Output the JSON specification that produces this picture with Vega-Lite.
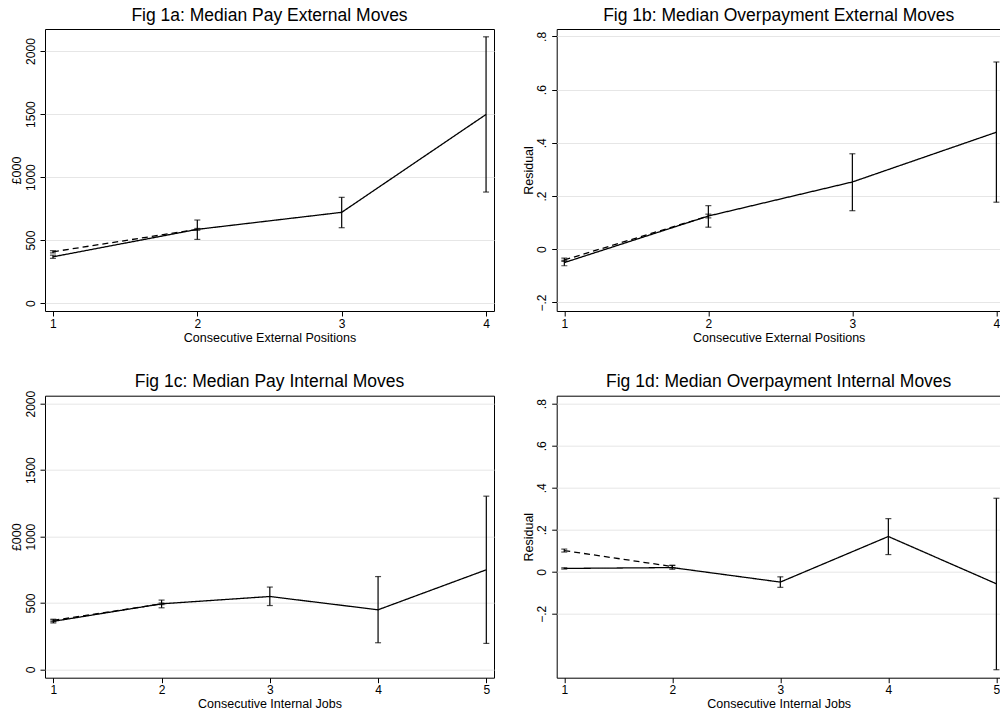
{
  "$schema": "https://vega.github.io/schema/vega-lite/v6.json",
  "background": "white",
  "padding": {"left": 10, "top": 6, "right": 0, "bottom": 0},
  "datasets": {
    "a": [
      {"series": "main", "x": 1, "y": 367, "lo": 355, "hi": 380},
      {"series": "main", "x": 2, "y": 585, "lo": 505, "hi": 659},
      {"series": "main", "x": 3, "y": 720, "lo": 598, "hi": 839},
      {"series": "main", "x": 4, "y": 1497, "lo": 881, "hi": 2113},
      {"series": "alt", "x": 1, "y": 407, "lo": 398, "hi": 416},
      {"series": "alt", "x": 2, "y": 585, "lo": 578, "hi": 592}
    ],
    "b": [
      {"series": "main", "x": 1, "y": -0.050, "lo": -0.062, "hi": -0.042},
      {"series": "main", "x": 2, "y": 0.125, "lo": 0.083, "hi": 0.164},
      {"series": "main", "x": 3, "y": 0.253, "lo": 0.145, "hi": 0.359},
      {"series": "main", "x": 4, "y": 0.440, "lo": 0.177, "hi": 0.704},
      {"series": "alt", "x": 1, "y": -0.040, "lo": -0.046, "hi": -0.033},
      {"series": "alt", "x": 2, "y": 0.125, "lo": 0.118, "hi": 0.132}
    ],
    "c": [
      {"series": "main", "x": 1, "y": 362, "lo": 350, "hi": 372},
      {"series": "main", "x": 2, "y": 494, "lo": 464, "hi": 522},
      {"series": "main", "x": 3, "y": 549, "lo": 481, "hi": 620},
      {"series": "main", "x": 4, "y": 449, "lo": 201, "hi": 699},
      {"series": "main", "x": 5, "y": 750, "lo": 196, "hi": 1304},
      {"series": "alt", "x": 1, "y": 369, "lo": 360, "hi": 378},
      {"series": "alt", "x": 2, "y": 494, "lo": 488, "hi": 500}
    ],
    "d": [
      {"series": "main", "x": 1, "y": 0.016, "lo": 0.013, "hi": 0.019},
      {"series": "main", "x": 2, "y": 0.020, "lo": 0.012, "hi": 0.030},
      {"series": "main", "x": 3, "y": -0.049, "lo": -0.074, "hi": -0.024},
      {"series": "main", "x": 4, "y": 0.168, "lo": 0.082, "hi": 0.253},
      {"series": "main", "x": 5, "y": -0.057, "lo": -0.466, "hi": 0.350},
      {"series": "alt", "x": 1, "y": 0.101, "lo": 0.094, "hi": 0.108},
      {"series": "alt", "x": 2, "y": 0.025, "lo": 0.019, "hi": 0.031}
    ]
  },
  "columns": 2,
  "spacing": {"row": 84.7, "column": 62.7},
  "bounds": "flush",
  "align": "each",
  "concat": [
    {
      "width": 449, "height": 282,
      "title": "Fig 1a: Median Pay External Moves",
      "data": {"name": "a"},
      "encoding": {
        "x": {"field": "x", "type": "quantitative", "scale": {"domain": [0.945, 4.055], "nice": false, "zero": false}, "axis": {"values": [1, 2, 3, 4], "format": "d", "title": "Consecutive External Positions"}}
      },
      "layer": [
        {"mark": {"type": "line", "color": "black", "strokeWidth": 1.3},
         "encoding": {
           "y": {"field": "y", "type": "quantitative", "scale": {"domain": [-63, 2175], "nice": false, "zero": false}, "axis": {"values": [0, 500, 1000, 1500, 2000], "format": "d", "title": "£000"}},
           "strokeDash": {"field": "series", "type": "nominal", "scale": {"domain": ["main", "alt"], "range": [[1, 0], [6, 4]]}, "legend": null}
         }},
        {"mark": {"type": "rule", "color": "black", "strokeWidth": 1.2},
         "encoding": {
           "y": {"field": "lo", "type": "quantitative", "scale": {"domain": [-63, 2175], "nice": false, "zero": false}, "title": "£000"},
           "y2": {"field": "hi"}
         }},
        {"mark": {"type": "tick", "orient": "horizontal", "color": "black", "size": 6, "thickness": 1.2},
         "encoding": {"y": {"field": "lo", "type": "quantitative", "scale": {"domain": [-63, 2175], "nice": false, "zero": false}, "title": "£000"}}},
        {"mark": {"type": "tick", "orient": "horizontal", "color": "black", "size": 6, "thickness": 1.2},
         "encoding": {"y": {"field": "hi", "type": "quantitative", "scale": {"domain": [-63, 2175], "nice": false, "zero": false}, "title": "£000"}}}
      ]
    },
    {
      "width": 444, "height": 282,
      "title": "Fig 1b: Median Overpayment External Moves",
      "data": {"name": "b"},
      "encoding": {
        "x": {"field": "x", "type": "quantitative", "scale": {"domain": [0.947, 4.03], "nice": false, "zero": false}, "axis": {"values": [1, 2, 3, 4], "format": "d", "title": "Consecutive External Positions"}}
      },
      "layer": [
        {"mark": {"type": "line", "color": "black", "strokeWidth": 1.3},
         "encoding": {
           "y": {"field": "y", "type": "quantitative", "scale": {"domain": [-0.232, 0.828], "nice": false, "zero": false}, "axis": {"values": [-0.2, 0, 0.2, 0.4, 0.6, 0.8], "labelExpr": "datum.value == 0 ? '0' : replace(format(datum.value, '.1f'), '0.', '.')", "title": "Residual"}},
           "strokeDash": {"field": "series", "type": "nominal", "scale": {"domain": ["main", "alt"], "range": [[1, 0], [6, 4]]}, "legend": null}
         }},
        {"mark": {"type": "rule", "color": "black", "strokeWidth": 1.2},
         "encoding": {
           "y": {"field": "lo", "type": "quantitative", "scale": {"domain": [-0.232, 0.828], "nice": false, "zero": false}, "title": "Residual"},
           "y2": {"field": "hi"}
         }},
        {"mark": {"type": "tick", "orient": "horizontal", "color": "black", "size": 6, "thickness": 1.2},
         "encoding": {"y": {"field": "lo", "type": "quantitative", "scale": {"domain": [-0.232, 0.828], "nice": false, "zero": false}, "title": "Residual"}}},
        {"mark": {"type": "tick", "orient": "horizontal", "color": "black", "size": 6, "thickness": 1.2},
         "encoding": {"y": {"field": "hi", "type": "quantitative", "scale": {"domain": [-0.232, 0.828], "nice": false, "zero": false}, "title": "Residual"}}}
      ]
    },
    {
      "width": 449, "height": 282,
      "title": {"text": "Fig 1c: Median Pay Internal Moves", "offset": -0.5},
      "data": {"name": "c"},
      "encoding": {
        "x": {"field": "x", "type": "quantitative", "scale": {"domain": [0.923, 5.071], "nice": false, "zero": false}, "axis": {"values": [1, 2, 3, 4, 5], "format": "d", "title": "Consecutive Internal Jobs"}}
      },
      "layer": [
        {"mark": {"type": "line", "color": "black", "strokeWidth": 1.3},
         "encoding": {
           "y": {"field": "y", "type": "quantitative", "scale": {"domain": [-62, 2060], "nice": false, "zero": false}, "axis": {"values": [0, 500, 1000, 1500, 2000], "format": "d", "title": "£000"}},
           "strokeDash": {"field": "series", "type": "nominal", "scale": {"domain": ["main", "alt"], "range": [[1, 0], [6, 4]]}, "legend": null}
         }},
        {"mark": {"type": "rule", "color": "black", "strokeWidth": 1.2},
         "encoding": {
           "y": {"field": "lo", "type": "quantitative", "scale": {"domain": [-62, 2060], "nice": false, "zero": false}, "title": "£000"},
           "y2": {"field": "hi"}
         }},
        {"mark": {"type": "tick", "orient": "horizontal", "color": "black", "size": 6, "thickness": 1.2},
         "encoding": {"y": {"field": "lo", "type": "quantitative", "scale": {"domain": [-62, 2060], "nice": false, "zero": false}, "title": "£000"}}},
        {"mark": {"type": "tick", "orient": "horizontal", "color": "black", "size": 6, "thickness": 1.2},
         "encoding": {"y": {"field": "hi", "type": "quantitative", "scale": {"domain": [-62, 2060], "nice": false, "zero": false}, "title": "£000"}}}
      ]
    },
    {
      "width": 444, "height": 282,
      "title": "Fig 1d: Median Overpayment Internal Moves",
      "data": {"name": "d"},
      "encoding": {
        "x": {"field": "x", "type": "quantitative", "scale": {"domain": [0.93, 5.04], "nice": false, "zero": false}, "axis": {"values": [1, 2, 3, 4, 5], "format": "d", "title": "Consecutive Internal Jobs"}}
      },
      "layer": [
        {"mark": {"type": "line", "color": "black", "strokeWidth": 1.3},
         "encoding": {
           "y": {"field": "y", "type": "quantitative", "scale": {"domain": [-0.504, 0.838], "nice": false, "zero": false}, "axis": {"values": [-0.2, 0, 0.2, 0.4, 0.6, 0.8], "labelExpr": "datum.value == 0 ? '0' : replace(format(datum.value, '.1f'), '0.', '.')", "title": "Residual"}},
           "strokeDash": {"field": "series", "type": "nominal", "scale": {"domain": ["main", "alt"], "range": [[1, 0], [6, 4]]}, "legend": null}
         }},
        {"mark": {"type": "rule", "color": "black", "strokeWidth": 1.2},
         "encoding": {
           "y": {"field": "lo", "type": "quantitative", "scale": {"domain": [-0.504, 0.838], "nice": false, "zero": false}, "title": "Residual"},
           "y2": {"field": "hi"}
         }},
        {"mark": {"type": "tick", "orient": "horizontal", "color": "black", "size": 6, "thickness": 1.2},
         "encoding": {"y": {"field": "lo", "type": "quantitative", "scale": {"domain": [-0.504, 0.838], "nice": false, "zero": false}, "title": "Residual"}}},
        {"mark": {"type": "tick", "orient": "horizontal", "color": "black", "size": 6, "thickness": 1.2},
         "encoding": {"y": {"field": "hi", "type": "quantitative", "scale": {"domain": [-0.504, 0.838], "nice": false, "zero": false}, "title": "Residual"}}}
      ]
    }
  ],
  "config": {
    "font": "Liberation Sans",
    "view": {"stroke": "black", "strokeWidth": 1},
    "axis": {
      "labelFont": "Liberation Sans", "labelFontSize": 12, "labelColor": "black",
      "titleFont": "Liberation Sans", "titleFontSize": 12.5, "titleFontWeight": "normal", "titleColor": "black",
      "tickColor": "black", "tickSize": 5, "domain": false,
      "gridColor": "#e6e6e6", "gridWidth": 1
    },
    "axisX": {"grid": false, "labelPadding": 2, "titlePadding": 2, "labelFlush": false},
    "axisY": {"grid": true, "labelAngle": -90, "labelAlign": "center", "labelBaseline": "bottom", "labelPadding": 3, "minExtent": 19, "maxExtent": 19, "titlePadding": 2.5},
    "title": {"font": "Liberation Sans", "fontSize": 17.5, "fontWeight": "normal", "color": "black", "offset": 5, "frame": "group", "anchor": "middle"}
  }
}
